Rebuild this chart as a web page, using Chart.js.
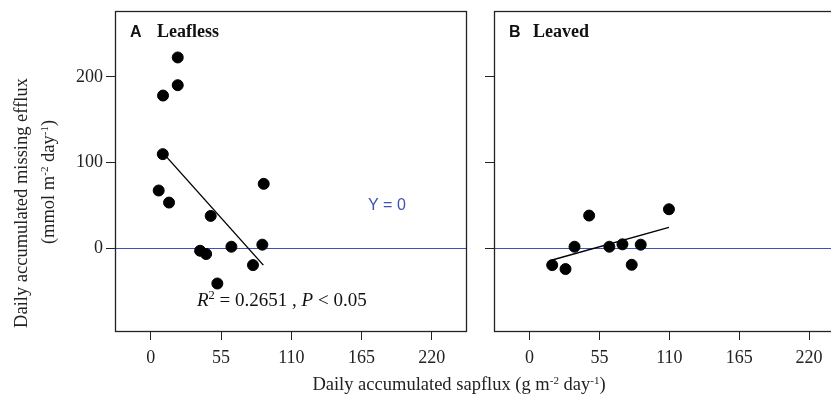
<!DOCTYPE html>
<html>
<head>
<meta charset="utf-8">
<script src="https://cdn.jsdelivr.net/npm/chart.js@4/dist/chart.umd.min.js"></script>
<style>
  html, body { margin: 0; padding: 0; background: #fff; }
  body { width: 831px; height: 396px; overflow: hidden; position: relative; }
  canvas { position: absolute; top: 0; }
  #cA { left: 0; }
  #cB { left: 454px; }
  .ttl { position: absolute; font-family: "Liberation Serif", "Times New Roman", serif; font-size: 18.5px; color: #222; white-space: nowrap; line-height: 1; }
  .ttl sup { font-size: 11px; vertical-align: 6px; line-height: 0; }
  .rot { transform: translate(-50%, -50%) rotate(-90deg); }
  .hor { transform: translate(-50%, -50%); }
</style>
</head>
<body>
<canvas id="cA" width="470" height="396"></canvas>
<canvas id="cB" width="393" height="396"></canvas>
<div class="ttl rot" style="left:21px; top:203px;">Daily accumulated missing efflux</div>
<div class="ttl rot" style="left:48px; top:182px;">(mmol m<sup>-2</sup> day<sup>-1</sup>)</div>
<div class="ttl hor" style="left:459px; top:384px;">Daily accumulated sapflux (g m<sup>-2</sup> day<sup>-1</sup>)</div>
<script>
// ---- data ----
const xTicks = [0, 55, 110, 165, 220];
const yTicks = [0, 100, 200];

const leaflessSap    = [21.1, 21.1, 9.6, 9.4, 6.2, 14.3, 88.4, 46.9, 38.6, 43.3, 63.1, 87.3, 80.0, 52.1];
const leaflessEfflux = [222.7, 190.3, 178.2, 109.7, 67.2, 53.1, 75.0, 37.5, -3.2, -7.0, 1.5, 3.9, -20.0, -41.5];

const leavedSap    = [17.8, 28.3, 35.4, 46.9, 62.8, 73.1, 80.4, 87.5, 109.7];
const leavedEfflux = [-20.0, -24.6, 1.5, 37.9, 1.5, 4.3, -19.6, 3.9, 45.3];

const fitLeaflessSap    = [12.5, 88.1];
const fitLeaflessEfflux = [106.2, -20.0];
const fitLeavedSap      = [17.8, 109.7];
const fitLeavedEfflux   = [-14.0, 24.2];

const refLineValue = 0;

function pts(xs, ys) { return xs.map((x, i) => ({ x: x, y: ys[i] })); }

const SERIF = '"Liberation Serif", "Times New Roman", serif';
const SANS = '"Liberation Sans", Arial, sans-serif';

const decoPlugin = {
  id: 'deco',
  beforeDatasetsDraw(chart, args, o) {
    const ctx = chart.ctx, a = chart.chartArea;
    const y0 = chart.scales.y.getPixelForValue(refLineValue);
    ctx.save();
    ctx.strokeStyle = '#3f51b5';
    ctx.lineWidth = 1;
    ctx.beginPath();
    ctx.moveTo(a.left, Math.round(y0) + 0.5);
    ctx.lineTo(a.right, Math.round(y0) + 0.5);
    ctx.stroke();
    ctx.restore();
  },
  afterDraw(chart, args, o) {
    const ctx = chart.ctx, a = chart.chartArea;
    ctx.save();
    // box
    ctx.strokeStyle = '#222';
    ctx.lineWidth = 1.3;
    ctx.strokeRect(Math.round(a.left) + 0.5, Math.round(a.top) + 0.5,
                   Math.round(a.right - a.left) - 1, Math.round(a.bottom - a.top));
    // panel letter & title
    ctx.fillStyle = '#111';
    ctx.textBaseline = 'alphabetic';
    ctx.font = 'bold 16px ' + SANS;
    ctx.fillText(o.letter, a.left + o.letterDx, a.top + 26);
    ctx.font = 'bold 18px ' + SERIF;
    ctx.fillText(o.title, a.left + o.titleDx, a.top + 26);
    // Y = 0 label
    if (o.refLabel) {
      ctx.fillStyle = '#3f51b5';
      ctx.font = '16px ' + SANS;
      ctx.fillText(o.refLabel, o.refLabelX, o.refLabelY);
    }
    // R2 text
    let x = o.statX; const y = o.statY;
    ctx.fillStyle = '#111';
    const segs = [
      { t: 'R', f: 'italic 19px ' + SERIF, dy: 0 },
      { t: '2', f: '12.5px ' + SERIF, dy: -7.5 },
      { t: ' = ' + o.r2 + ' , ', f: '19px ' + SERIF, dy: 0 },
      { t: 'P', f: 'italic 19px ' + SERIF, dy: 0 },
      { t: ' < 0.05', f: '19px ' + SERIF, dy: 0 }
    ];
    segs.forEach(s => {
      ctx.font = s.f;
      ctx.fillText(s.t, x, y + s.dy);
      x += ctx.measureText(s.t).width;
    });
    ctx.restore();
  }
};

function makeChart(id, scatter, fit, yAxisWidth, deco) {
  return new Chart(document.getElementById(id), {
    type: 'scatter',
    data: {
      datasets: [
        {
          data: scatter,
          backgroundColor: '#000',
          borderColor: '#000',
          pointRadius: 5.5,
          pointHoverRadius: 5.5
        },
        {
          data: fit,
          showLine: true,
          borderColor: '#000',
          borderWidth: 1.4,
          pointRadius: 0,
          fill: false
        }
      ]
    },
    options: {
      responsive: false,
      animation: false,
      events: [],
      layout: { autoPadding: false, padding: { top: 11, right: 3, left: 0, bottom: 0 } },
      plugins: { legend: { display: false }, tooltip: { enabled: false }, deco: deco },
      scales: {
        x: {
          type: 'linear',
          min: -28, max: 247.5,
          afterBuildTicks: s => { s.ticks = xTicks.map(v => ({ value: v })); },
          afterFit: s => { s.height = 65; s.paddingLeft = 0; s.paddingRight = 0; },
          grid: { drawOnChartArea: false, drawTicks: true, tickLength: 9, color: '#222', lineWidth: 1 },
          border: { display: false },
          ticks: { color: '#222', font: { family: SERIF, size: 18 }, padding: 7, maxRotation: 0, autoSkip: false }
        },
        y: {
          type: 'linear',
          min: -97, max: 277,
          afterBuildTicks: s => { s.ticks = yTicks.map(v => ({ value: v })); },
          afterFit: s => { s.width = yAxisWidth; s.paddingTop = 0; s.paddingBottom = 0; },
          grid: { drawOnChartArea: false, drawTicks: true, tickLength: 9, color: '#222', lineWidth: 1 },
          border: { display: false },
          ticks: { display: deco.showYLabels, color: '#222', font: { family: SERIF, size: 18 }, padding: 3 }
        }
      }
    },
    plugins: [decoPlugin]
  });
}

makeChart('cA', pts(leaflessSap, leaflessEfflux), pts(fitLeaflessSap, fitLeaflessEfflux), 115, {
  letter: 'A', letterDx: 15, title: 'Leafless', titleDx: 42, showYLabels: true,
  refLabel: 'Y = 0', refLabelX: 368, refLabelY: 210,
  r2: '0.2651', statX: 197, statY: 306
});
makeChart('cB', pts(leavedSap, leavedEfflux), pts(fitLeavedSap, fitLeavedEfflux), 40, {
  letter: 'B', letterDx: 15, title: 'Leaved', titleDx: 39, showYLabels: false,
  refLabel: null,
  r2: '0.1647', statX: 533, statY: 306
});
</script>
</body>
</html>
